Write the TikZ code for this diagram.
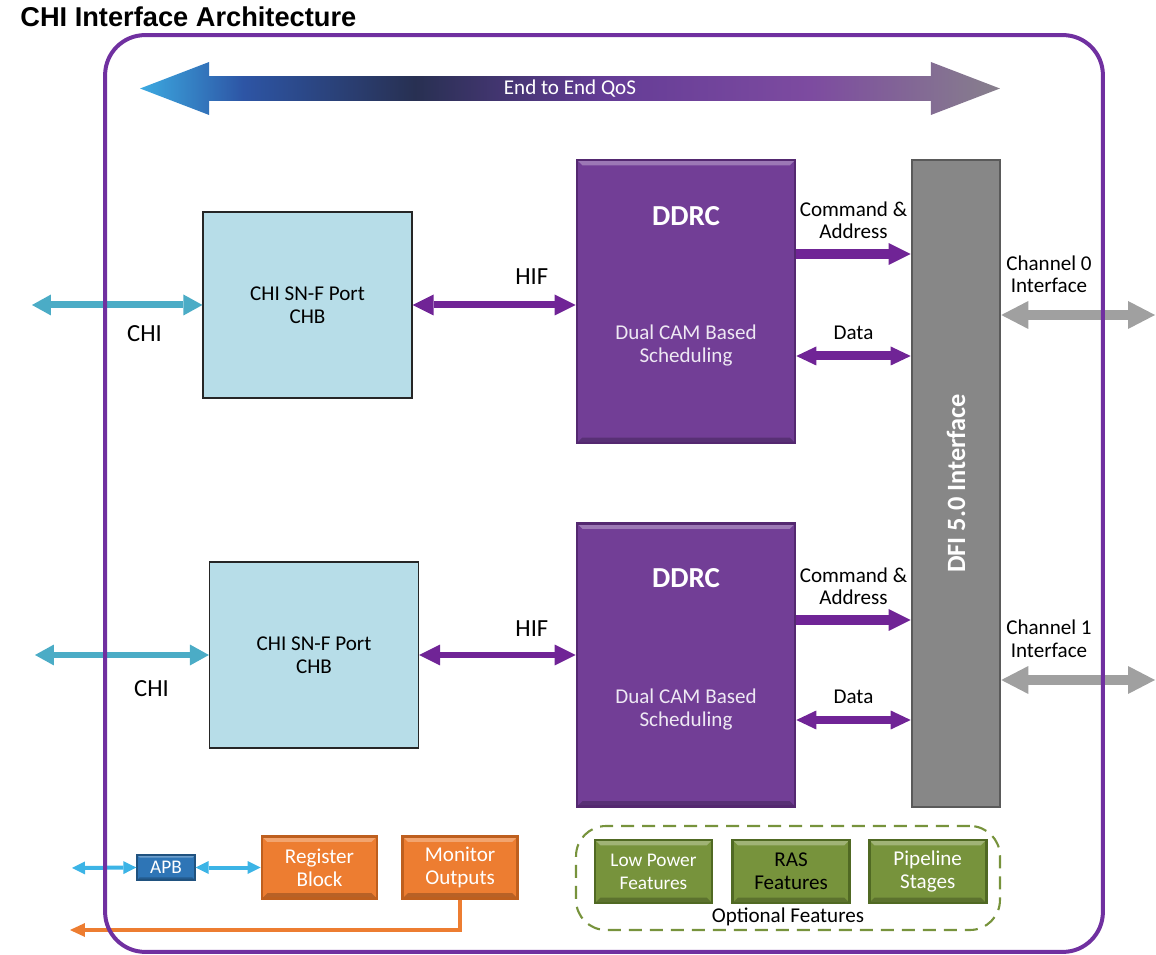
\documentclass[tikz,border=0pt]{standalone}
\usepackage{fontspec}
\setmainfont{Carlito}
\newfontfamily\titlefont{Liberation Sans}
\usetikzlibrary{arrows.meta,positioning,shapes.arrows}

\definecolor{framepurple}{RGB}{112,48,160}
\definecolor{ddrcpurple}{RGB}{114,62,150}
\definecolor{ddrcedge}{RGB}{84,40,112}
\definecolor{hifpurple}{RGB}{112,36,150}
\definecolor{chiblue}{RGB}{183,221,232}
\definecolor{chiarrowcol}{RGB}{75,172,198}
\definecolor{dfigrey}{RGB}{135,135,135}
\definecolor{dfiedge}{RGB}{90,90,90}
\definecolor{changrey}{RGB}{160,160,160}
\definecolor{apbblue}{RGB}{46,117,182}
\definecolor{apbcyan}{RGB}{60,180,230}
\definecolor{regorange}{RGB}{237,125,49}
\definecolor{regedge}{RGB}{190,95,30}
\definecolor{optgreen}{RGB}{119,147,60}
\definecolor{optedge}{RGB}{80,105,35}
\definecolor{qosa}{RGB}{60,170,225}
\definecolor{qosb}{RGB}{45,85,165}
\definecolor{qosc}{RGB}{40,48,82}
\definecolor{qosd}{RGB}{100,60,150}
\definecolor{qose}{RGB}{125,75,160}
\definecolor{qosf}{RGB}{135,128,140}

\pgfdeclarehorizontalshading{qosshade}{100bp}{color(0bp)=(qosa); color(25bp)=(qosa); color(31bp)=(qosb); color(41bp)=(qosc); color(52bp)=(qosd); color(64bp)=(qose); color(75bp)=(qosf); color(100bp)=(qosf)}

\begin{document}
\begin{tikzpicture}[x=0.02cm, y=-0.02cm, font=\fontsize{12}{13}\selectfont,
    % raised look of the coloured blocks
    bevel/.style={path picture={
        \fill[white, opacity=0.3] (path picture bounding box.north west) -- (path picture bounding box.north east)
          -- ([shift={(-#1,-#1)}]path picture bounding box.north east) -- ([shift={(#1,-#1)}]path picture bounding box.north west) -- cycle;
        \fill[black, opacity=0.22] (path picture bounding box.south west) -- (path picture bounding box.south east)
          -- ([shift={(-#1,#1)}]path picture bounding box.south east) -- ([shift={(#1,#1)}]path picture bounding box.south west) -- cycle;
      }},
    % blocks
    chibox/.style={draw=black!85, line width=0.7pt, fill=chiblue, minimum width=4.18cm, minimum height=3.72cm, align=center},
    ddrcbox/.style={draw=ddrcedge, line width=1.5pt, fill=ddrcpurple, minimum width=4.36cm, minimum height=5.66cm, bevel=3pt},
    ddrcname/.style={text=white, font=\fontsize{16.5}{18}\selectfont\bfseries, inner sep=0pt},
    ddrcnote/.style={text=white!88!ddrcpurple, align=center, inner sep=0pt},
    dfibox/.style={draw=dfiedge, line width=1.5pt, fill=dfigrey, minimum width=1.76cm, minimum height=12.94cm},
    apbbox/.style={draw=apbblue!70!black, line width=0.8pt, fill=apbblue, text=white, font=\fontsize{11}{12}\selectfont, minimum width=1.16cm, minimum height=0.5cm, inner sep=0pt, bevel=1.5pt},
    regbox/.style={draw=regedge, line width=1.5pt, fill=regorange, text=white, align=center, minimum width=2.3cm, minimum height=1.24cm, inner sep=0pt, bevel=3pt},
    featbox/.style={draw=optedge, line width=1.5pt, fill=optgreen, text=white, align=center, minimum width=2.34cm, minimum height=1.26cm, inner sep=0pt, bevel=3pt},
    optframe/.style={draw=optgreen, line width=1.2pt, dash pattern=on 0.26cm off 0.16cm, rounded corners=0.6cm, minimum width=8.48cm, minimum height=2.08cm},
    framebox/.style={draw=framepurple, line width=0.08cm, rounded corners=0.8cm, minimum width=19.96cm, minimum height=18.34cm},
    lbl/.style={inner sep=0pt, align=center},
    biglbl/.style={lbl, font=\fontsize{14}{16}\selectfont},
    % connectors
    chiarrow/.style={<->, >={Triangle[width=0.42cm, length=0.38cm, line width=0pt]}, line width=0.14cm, draw=chiarrowcol},
    hifarrow/.style={<->, >={Triangle[width=0.42cm, length=0.42cm, line width=0pt]}, line width=0.14cm, draw=hifpurple},
    cmdarrow/.style={->, >={Triangle[width=0.44cm, length=0.44cm, line width=0pt]}, line width=0.2cm, draw=hifpurple},
    dataarrow/.style={<->, >={Triangle[width=0.38cm, length=0.4cm, line width=0pt]}, line width=0.18cm, draw=hifpurple},
    charrow/.style={<->, >={Triangle[width=0.56cm, length=0.54cm, line width=0pt]}, line width=0.2cm, draw=changrey},
    apbarrow/.style={<->, >={Triangle[width=0.26cm, length=0.26cm, line width=0pt]}, line width=0.08cm, draw=apbcyan},
    monarrow/.style={->, >={Triangle[width=0.28cm, length=0.3cm, line width=0pt]}, line width=0.08cm, draw=regorange},
    qosarrow/.style={double arrow, double arrow head extend=0.21cm, double arrow tip angle=42, minimum height=17.2cm, minimum width=1.06cm, inner sep=0pt, shade, shading=qosshade, text=white}
  ]
  \useasboundingbox (0,0) rectangle (1156,955);

  % title
  \node[anchor=west, font=\titlefont\bfseries\fontsize{15.5}{17}\selectfont, inner sep=0pt] (title) at (20,17) {CHI Interface Architecture};

  % end to end QoS band
  \node[qosarrow] (qos) at (570,88.5) {End to End QoS};

  % CHI ports
  \node[chibox] (chib1) at (307.5,305) {CHI SN-F Port\\CHB};
  \node[chibox] (chib2) at (314,655) {CHI SN-F Port\\CHB};

  % controllers
  \node[ddrcbox] (ddrc1) at (686,301.5) {};
  \node[ddrcname] (ddrc1name) at ([yshift=-1.14cm]ddrc1.north) {DDRC};
  \node[ddrcnote] (ddrc1note) at ([yshift=-3.74cm]ddrc1.north) {Dual CAM Based\\Scheduling};
  \node[ddrcbox] (ddrc2) at (686,665) {};
  \node[ddrcname] (ddrc2name) at ([yshift=-1.12cm]ddrc2.north) {DDRC};
  \node[ddrcnote] (ddrc2note) at ([yshift=-3.74cm]ddrc2.north) {Dual CAM Based\\Scheduling};

  % DFI bar
  \node[dfibox] (dfi) at (956,483.5) {};
  \node[rotate=90, text=white, font=\fontsize{15}{17}\selectfont\bfseries] (dfiname) at (dfi) {DFI 5.0 Interface};

  % register / monitor row
  \node[apbbox] (apb) at (166,867.5) {APB};
  \node[regbox, right=1.3cm of apb] (reg) {Register\\Block};
  \node[regbox, right=0.46cm of reg] (mon) {Monitor\\Outputs};

  % optional features
  \node[optframe] (opt) at (788,878) {};
  \node[featbox, font=\fontsize{11}{13}\selectfont] (lowpow) at (653.5,871.5) {Low Power\\Features};
  \node[featbox, text=black, right=0.36cm of lowpow] (ras) {RAS\\Features};
  \node[featbox, right=0.34cm of ras] (pipe) {Pipeline\\Stages};
  \node[lbl] (optname) at (788,917) {Optional Features};

  % CHI side
  \coordinate (chi1in) at (32,305);
  \coordinate (chi2in) at (35,655);
  \draw[chiarrow] (chi1in) -- (chib1.west) node[biglbl, below=0.34cm, pos=0.66] (chi1name) {CHI};
  \draw[chiarrow] (chi2in) -- (chib2.west) node[biglbl, below=0.44cm, pos=0.67] (chi2name) {CHI};

  % host interface
  \draw[hifarrow] (chib1.east) -- (chib1.east -| ddrc1.west) node[biglbl, above=0.34cm, pos=0.73] (hif1name) {HIF};
  \draw[hifarrow] (chib2.east) -- (chib2.east -| ddrc2.west) node[biglbl, above=0.3cm, pos=0.72] (hif2name) {HIF};

  % DDRC to DFI
  \coordinate (cmd1) at (797,254);
  \coordinate (data1) at (797,356);
  \coordinate (cmd2) at (797,620);
  \coordinate (data2) at (797,720);
  \draw[cmdarrow] (cmd1 -| ddrc1.east) -- (cmd1 -| dfi.west) node[lbl, above=0.2cm, midway] (cmd1name) {Command \&\\Address};
  \draw[dataarrow] (data1 -| ddrc1.east) -- (data1 -| dfi.west) node[lbl, above=0.23cm, midway] (data1name) {Data};
  \draw[cmdarrow] (cmd2 -| ddrc2.east) -- (cmd2 -| dfi.west) node[lbl, above=0.2cm, midway] (cmd2name) {Command \&\\Address};
  \draw[dataarrow] (data2 -| ddrc2.east) -- (data2 -| dfi.west) node[lbl, above=0.23cm, midway] (data2name) {Data};

  % channels
  \coordinate (ch0out) at (1155,315);
  \coordinate (ch1out) at (1155,680);
  \draw[charrow] (ch0out -| dfi.east) -- (ch0out) node[lbl, above=0.34cm, pos=0.31] (ch0name) {Channel 0\\Interface};
  \draw[charrow] (ch1out -| dfi.east) -- (ch1out) node[lbl, above=0.35cm, pos=0.31] (ch1name) {Channel 1\\Interface};

  % APB and monitor links
  \coordinate (apbin) at (72,868);
  \coordinate (monout) at (70,930);
  \draw[apbarrow] (apbin) -- (apb.west);
  \draw[apbarrow] (apb.east) -- (reg.west);
  \draw[monarrow] (mon.south) |- (monout);

  % outer frame on top
  \node[framebox] (frame) at (604,493.5) {};
\end{tikzpicture}
\end{document}
